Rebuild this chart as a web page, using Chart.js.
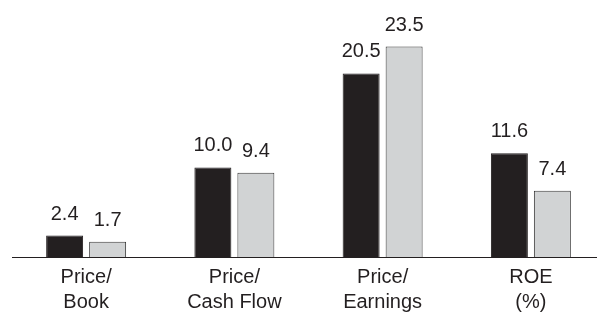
<!DOCTYPE html>
<html>
<head>
<meta charset="utf-8">
<script src="https://cdn.jsdelivr.net/npm/chart.js@4"></script>
<style>
    html, body { margin: 0; padding: 0; background: #fff; overflow: hidden; }
    .chart-box { width: 610px; height: 323px; }
</style>
</head>
<body>
<div class="chart-box"><canvas id="ratioChart"></canvas></div>
<script>
// Data
const categories = [['Price/', 'Book'], ['Price/', 'Cash Flow'], ['Price/', 'Earnings'], ['ROE', '(%)']];
const seriesA = [2.4, 10.0, 20.5, 11.6];
const seriesB = [1.7, 9.4, 23.5, 7.4];

const textColor = '#231f20';
const fontFamily = '"Liberation Sans", Arial, Helvetica, sans-serif';

// Value labels above each bar
const valueLabels = {
    id: 'valueLabels',
    afterDatasetsDraw(chart) {
        const ctx = chart.ctx;
        ctx.save();
        ctx.font = '20px ' + fontFamily;
        ctx.fillStyle = textColor;
        ctx.textAlign = 'center';
        ctx.textBaseline = 'alphabetic';
        chart.data.datasets.forEach((ds, i) => {
            chart.getDatasetMeta(i).data.forEach((bar, j) => {
                ctx.fillText(ds.data[j].toFixed(1), bar.x, bar.y - 16);
            });
        });
        ctx.restore();
    }
};

document.addEventListener('DOMContentLoaded', function() {
    const ctx = document.getElementById('ratioChart');

    new Chart(ctx, {
        type: 'bar',
        data: {
            labels: categories,
            datasets: [{
                data: seriesA,
                backgroundColor: '#231f20',
                borderColor: '#231f20',
                borderWidth: 1
            }, {
                data: seriesB,
                backgroundColor: '#d1d3d4',
                borderColor: '#3a3a3a',
                borderWidth: 1
            }]
        },
        options: {
            responsive: true,
            maintainAspectRatio: false,
            animation: false,
            categoryPercentage: 0.58,
            barPercentage: 0.86,
            layout: {
                padding: { left: 12, right: 5, top: 0, bottom: 0 }
            },
            plugins: {
                legend: { display: false },
                tooltip: { enabled: false }
            },
            scales: {
                x: {
                    grid: { display: false, drawTicks: false },
                    border: { display: true, color: '#231f20', width: 1 },
                    ticks: {
                        color: textColor,
                        padding: 8,
                        font: { family: fontFamily, size: 20, lineHeight: 1.25 }
                    }
                },
                y: {
                    display: false,
                    min: 0,
                    max: 28.7
                }
            }
        },
        plugins: [valueLabels]
    });
});
</script>
</body>
</html>
